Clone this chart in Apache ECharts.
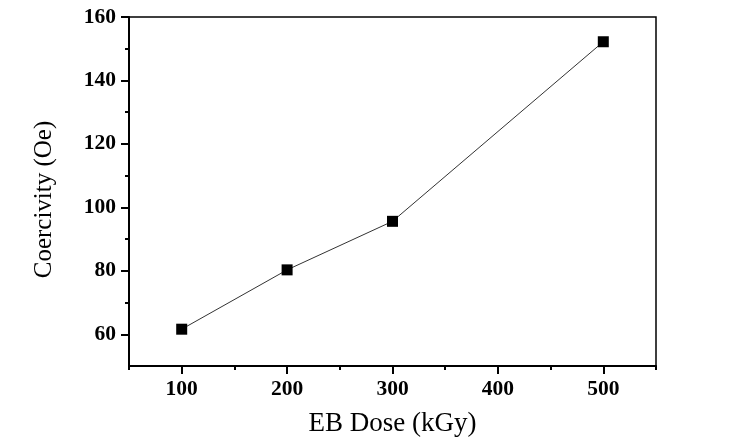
<!DOCTYPE html>
<html><head><meta charset="utf-8">
<script src="https://cdn.jsdelivr.net/npm/echarts@6/dist/echarts.min.js"></script>
<style>html,body{margin:0;padding:0;background:#fff}#c{width:748px;height:448px}</style>
</head><body><div id="c"></div>
<script>
const doses = [100, 200, 300, 500];
const coercivity = [61.6, 80.3, 95.6, 152.2];
const xMajorTicks = [100, 200, 300, 400, 500];
const xMinorTicks = [50, 150, 250, 350, 450, 550];
const yMajorTicks = [60, 80, 100, 120, 140, 160];
const yMinorTicks = [70, 90, 110, 130, 150];
const xName = 'EB Dose (kGy)';
const yName = 'Coercivity (Oe)';

const font = 'Liberation Serif, Times New Roman, serif';
const chart = echarts.init(document.getElementById('c'), null, {renderer: 'canvas'});
const lbl = {fontFamily: font, fontWeight: 'bold', fontSize: 21.5, color: '#000'};
chart.setOption({
  animation: false,
  backgroundColor: '#fff',
  grid: {left: 129, top: 17, right: 92, bottom: 82, show: true, borderColor: '#000', borderWidth: 1.5, backgroundColor: 'transparent'},
  xAxis: [
    {type: 'value', min: 50, max: 550, position: 'bottom',
     name: xName, nameLocation: 'middle', nameGap: 44,
     nameTextStyle: {fontFamily: font, fontSize: 27, color: '#000'},
     axisLine: {show: true, lineStyle: {color: '#000', width: 2}},
     axisTick: {show: true, customValues: xMajorTicks, length: 8, inside: false, lineStyle: {color: '#000', width: 2}},
     axisLabel: {customValues: xMajorTicks, margin: 12, ...lbl},
     splitLine: {show: false}},
    {type: 'value', min: 50, max: 550, position: 'bottom',
     axisLine: {show: false},
     axisTick: {show: true, customValues: xMinorTicks, length: 4, lineStyle: {color: '#000', width: 2}},
     axisLabel: {show: false}, splitLine: {show: false}}
  ],
  yAxis: [
    {type: 'value', min: 50, max: 160, position: 'left',
     name: yName, nameLocation: 'middle', nameGap: 72, nameRotate: 90,
     nameTextStyle: {fontFamily: font, fontSize: 25, color: '#000', padding: [0, 16, 0, 0]},
     axisLine: {show: true, lineStyle: {color: '#000', width: 2}},
     axisTick: {show: true, customValues: yMajorTicks, length: 8, lineStyle: {color: '#000', width: 2}},
     axisLabel: {customValues: yMajorTicks, margin: 13, ...lbl},
     splitLine: {show: false}},
    {type: 'value', min: 50, max: 160, position: 'left',
     axisLine: {show: false},
     axisTick: {show: true, customValues: yMinorTicks, length: 4, lineStyle: {color: '#000', width: 2}},
     axisLabel: {show: false}, splitLine: {show: false}}
  ],
  series: [{
    type: 'line',
    data: doses.map((d, i) => [d, coercivity[i]]),
    symbol: 'rect', symbolSize: 11,
    itemStyle: {color: '#000'},
    lineStyle: {color: '#333', width: 1},
    z: 3
  }]
});
</script></body></html>
